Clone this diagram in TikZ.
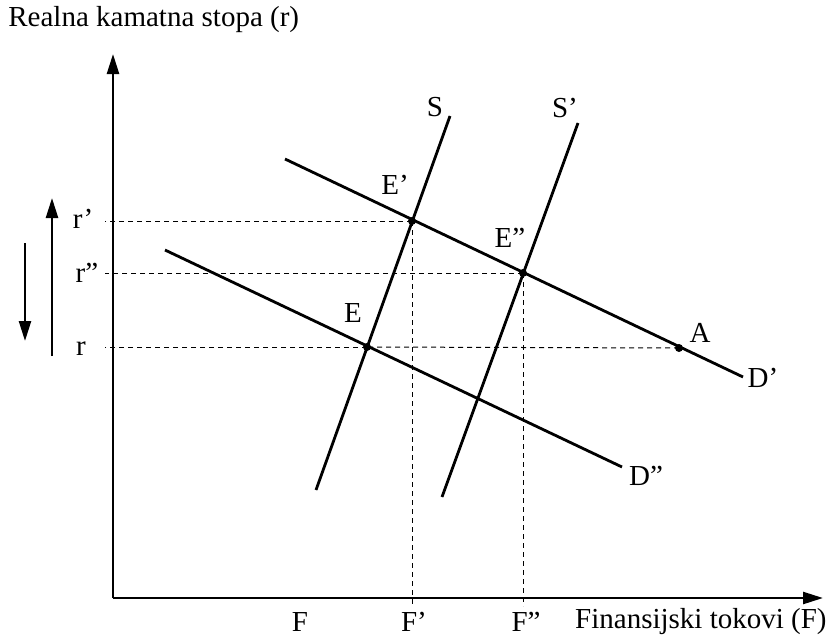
\documentclass[tikz,border=0pt]{standalone}
\usepackage{fontspec}
\setmainfont{Liberation Serif}
\usetikzlibrary{arrows.meta}

\tikzset{
  axis/.style={line width=1.2pt},
  curve/.style={line width=1.4pt},
  guide/.style={line width=0.5pt, dash pattern=on 2.5pt off 2pt},
  dot/.style={circle, fill=black, inner sep=0pt, minimum size=4pt},
  lbl/.style={inner sep=1pt}
}

\begin{document}
\begin{tikzpicture}[x=0.5pt, y=-0.5pt, >={Triangle[length=10pt,width=6pt]},
    font=\fontsize{14.5}{17}\selectfont]
  \useasboundingbox (0,0) rectangle (831,637);
  % Axes
  \coordinate (O) at (113,598);
  \coordinate (ytop) at (113,54);
  \coordinate (xend) at (823,598);
  \draw[axis, ->] (O) -- (ytop);
  \draw[axis, ->] (O) -- (xend);
  \node[lbl, anchor=west] (ylab) at (6,20) {Realna kamatna stopa (r)};
  \node[lbl, anchor=east] (xlab) at (829,622) {Finansijski tokovi (F)};
  % Equilibrium points
  \node[dot] (E0) at (367,347) {};
  \node[dot] (E1) at (412,221) {};
  \node[dot] (E2) at (523,273) {};
  \node[dot] (A) at (679,348) {};
  % Demand curves
  \coordinate (D1a) at (285,159);
  \coordinate (D1b) at (743,377);
  \coordinate (D2a) at (165,250);
  \coordinate (D2b) at (622,467);
  \draw[curve] (D1a) -- (D1b);
  \draw[curve] (D2a) -- (D2b);
  % Supply curves
  \coordinate (S1a) at (316,490);
  \coordinate (S1b) at (450,116);
  \coordinate (S2a) at (442,497);
  \coordinate (S2b) at (578,123);
  \draw[curve] (S1a) -- (S1b);
  \draw[curve] (S2a) -- (S2b);
  % Guide lines
  \coordinate (ltick) at (105,598);
  \coordinate (btick) at (113,606);
  \draw[guide] (E0.center) -- (E0 -| ltick);
  \draw[guide] (A.center) -- (E0.center);
  \draw[guide] (E1.center) -- (E1 -| ltick);
  \draw[guide] (E2.center) -- (E2 -| ltick);
  \draw[guide] (E1.center) -- (E1 |- btick);
  \draw[guide] (E2.center) -- (E2 |- btick);
  % Curve and point labels
  \node[lbl] (lS) at (435,107) {S};
  \node[lbl] (lS2) at (565,108) {S’};
  \node[lbl] (lD1) at (763,378) {D’};
  \node[lbl] (lD2) at (646,476) {D”};
  \node[lbl] (lE0) at (353,313) {E};
  \node[lbl] (lE1) at (395,185) {E’};
  \node[lbl] (lE2) at (510,238) {E”};
  \node[lbl] (lA) at (700,333) {A};
  % Axis values
  \node[lbl] (rp) at (83,219) {r’};
  \node[lbl] (rpp) at (87,273) {r”};
  \node[lbl] (r) at (81,349) {r};
  \node[lbl] (F) at (300,622) {F};
  \node[lbl] (Fp) at (414,622) {F’};
  \node[lbl] (Fpp) at (526,622) {F”};
  % Shift arrows
  \coordinate (up0) at (52,356);
  \coordinate (up1) at (52,198);
  \coordinate (dn0) at (25,243);
  \coordinate (dn1) at (25,341);
  \draw[axis, ->] (up0) -- (up1);
  \draw[axis, ->] (dn0) -- (dn1);
\end{tikzpicture}
\end{document}
